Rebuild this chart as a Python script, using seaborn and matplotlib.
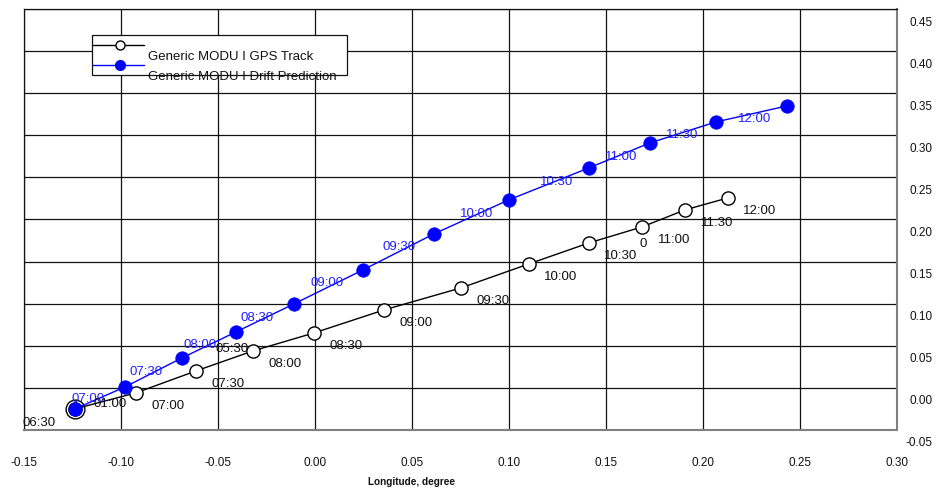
import matplotlib
matplotlib.use("Agg")
import matplotlib.pyplot as plt
import seaborn as sns
from matplotlib.transforms import ScaledTranslation
from matplotlib.patches import Rectangle
from matplotlib.lines import Line2D

# ---------------- data ----------------
gps_lon = [-0.1237, -0.0923, -0.0613, -0.0320, -0.0005, 0.0356,
           0.0753, 0.1103, 0.1412, 0.1686, 0.1907, 0.2129]
gps_lat = [-0.0249, -0.0059, 0.0202, 0.0439, 0.0653, 0.0926,
           0.1188, 0.1473, 0.1722, 0.1912, 0.2114, 0.2257]
gps_time = ["06:30", "07:00", "07:30", "08:00", "08:30", "09:00",
            "09:30", "10:00", "10:30", "11:00", "11:30", "12:00"]

drift_lon = [-0.1237, -0.0979, -0.0686, -0.0407, -0.0108, 0.0247,
             0.0613, 0.0999, 0.1412, 0.1727, 0.2067, 0.2433]
drift_lat = [-0.0249, 0.0012, 0.0356, 0.0665, 0.0998, 0.1401,
             0.1829, 0.2233, 0.2613, 0.2910, 0.3159, 0.3349]
drift_time = ["07:00", "07:30", "08:00", "08:30", "09:00", "09:30",
              "10:00", "10:30", "11:00", "11:30", "12:00"]

# stray labels present in the original chart
stray_text = ["01:00", "05:30", "0"]
stray_lon = [-0.1057, -0.0428, 0.1691]
stray_lat = [-0.0190, 0.0463, 0.1710]

x_ticks = [-0.15, -0.10, -0.05, 0.00, 0.05, 0.10, 0.15, 0.20, 0.25, 0.30]
y_ticks = [-0.05, 0.00, 0.05, 0.10, 0.15, 0.20, 0.25, 0.30, 0.35, 0.40, 0.45]

series_names = ["Generic MODU I GPS Track", "Generic MODU I Drift Prediction"]
x_title = "Longitude, degree"

# ---------------- label offsets (pixels: right, down) ----------------
gps_offsets = [(-36, 14)] + [(32, 13.5)] * 11
drift_offsets = [(13, -10), (21, -15), (18, -13), (21, -14), (33, -21),
                 (36, -23), (43, -20), (48, -18), (32, -11), (32, -8), (39, -3)]

# ---------------- style ----------------
sns.set_theme(style="white")
plt.rcParams["font.family"] = ["Liberation Sans", "DejaVu Sans"]

W, H = 941, 488
fig = plt.figure(figsize=(W / 100, H / 100), dpi=100)
ax = fig.add_axes([24 / W, 1 - 430 / H, 873 / W, 421 / H])
ax.set_facecolor("white")

# GPS track (open circles)
ax.plot(gps_lon[:1], gps_lat[:1], linestyle="none", marker="o", markersize=13.5,
        markerfacecolor="white", markeredgecolor="black", markeredgewidth=1.0, zorder=3)
sns.lineplot(x=gps_lon, y=gps_lat, sort=False, estimator=None, color="black", lw=1,
             marker="o", markersize=9.5, markerfacecolor="white",
             markeredgecolor="black", markeredgewidth=1.0, ax=ax, zorder=3)
# Drift prediction (filled blue)
sns.lineplot(x=drift_lon, y=drift_lat, sort=False, estimator=None, color="#0000ff", lw=1,
             marker="o", markersize=9.7, markerfacecolor="#0000ff",
             markeredgecolor="#0000ff", markeredgewidth=0.5, ax=ax, zorder=4)

# point labels
LBL = 9.5
for (x, y, t, (dx, dy)) in zip(gps_lon, gps_lat, gps_time, gps_offsets):
    ax.annotate(t, (x, y), xytext=(dx * 0.72, -dy * 0.72), textcoords="offset points",
                ha="center", va="center", fontsize=LBL, color="#111111", zorder=6)
for (x, y, t, (dx, dy)) in zip(drift_lon, drift_lat, drift_time, drift_offsets):
    ax.annotate(t, (x, y), xytext=(dx * 0.72, -dy * 0.72), textcoords="offset points",
                ha="center", va="center", fontsize=LBL, color="#2020ff", zorder=6)
for t, x, y in zip(stray_text, stray_lon, stray_lat):
    ax.text(x, y, t, ha="center", va="center", fontsize=LBL, color="#111111", zorder=6)

# axes
ax.set_xlim(x_ticks[0], x_ticks[-1])
ax.set_ylim(y_ticks[0], y_ticks[-1])
ax.set_xticks(x_ticks)
ax.set_yticks(y_ticks)
ax.set_xticklabels([f"{v:.2f}" for v in x_ticks])
ax.set_yticklabels([f"{v:.2f}" for v in y_ticks])
ax.grid(True, color="#111111", lw=0.9)
ax.set_axisbelow(True)

ax.tick_params(axis="x", length=0, pad=19.4, labelsize=8.5, colors="#111111")
ax.tick_params(axis="y", length=0, pad=25.9, labelsize=8.5, colors="#111111",
               left=False, labelleft=False, right=False, labelright=True)
shift = ScaledTranslation(0, -0.12, fig.dpi_scale_trans)
for lbl in ax.get_yticklabels():
    lbl.set_horizontalalignment("right")
    lbl.set_transform(lbl.get_transform() + shift)

for side in ["left", "top"]:
    ax.spines[side].set_color("#111111")
    ax.spines[side].set_linewidth(0.9)
for side in ["right", "bottom"]:
    ax.spines[side].set_color("#808080")
    ax.spines[side].set_linewidth(1.5)

ax.set_xlabel(x_title, fontsize=7.2, fontweight="bold", color="#111111")
ax.xaxis.set_label_coords((412 - 24) / 873, (430 - 482) / 421)
ax.xaxis.label.set_verticalalignment("center")
ax.set_ylabel("")

# manual legend (replicating original misaligned layout)
def fx(px):
    return px / W

def fy(py):
    return 1 - py / H

fig.add_artist(Rectangle((fx(92), fy(75)), fx(347) - fx(92), fy(35) - fy(75),
                         transform=fig.transFigure, facecolor="white",
                         edgecolor="#111111", lw=0.9, zorder=10))
fig.add_artist(Line2D([fx(93), fx(144)], [fy(45), fy(45)], transform=fig.transFigure,
                      color="black", lw=1, zorder=11))
fig.add_artist(Line2D([fx(120)], [fy(45)], transform=fig.transFigure, marker="o",
                      markersize=6.5, markerfacecolor="white", markeredgecolor="black",
                      markeredgewidth=1, linestyle="none", zorder=12))
fig.add_artist(Line2D([fx(93), fx(144)], [fy(65), fy(65)], transform=fig.transFigure,
                      color="#0000ff", lw=1, zorder=11))
fig.add_artist(Line2D([fx(120)], [fy(65)], transform=fig.transFigure, marker="o",
                      markersize=7, markerfacecolor="#0000ff", markeredgecolor="#0000ff",
                      linestyle="none", zorder=12))
fig.text(fx(148), fy(57), series_names[0], ha="left", va="center", fontsize=9.5,
         color="#111111", zorder=13)
fig.text(fx(148), fy(77), series_names[1], ha="left", va="center", fontsize=9.5,
         color="#111111", zorder=13)

fig.savefig("out.png", dpi=100)
